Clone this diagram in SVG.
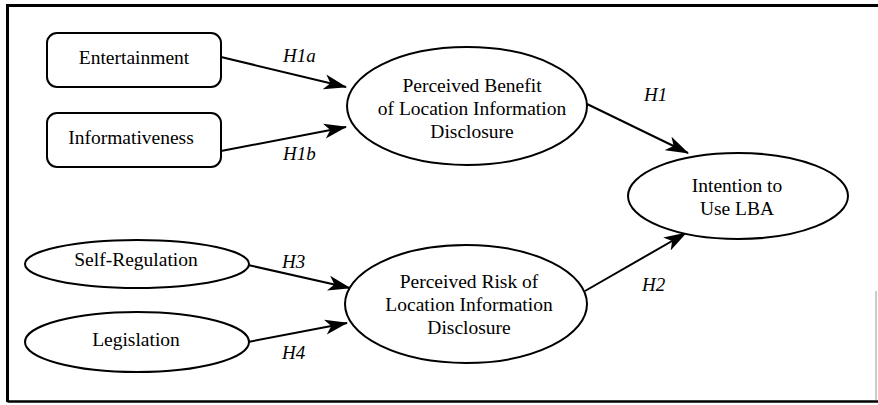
<svg xmlns="http://www.w3.org/2000/svg" width="878" height="405" viewBox="0 0 878 405" font-family="'Liberation Serif', 'DejaVu Serif', Tinos, 'Times New Roman', Times, serif">
  <defs>
    <style>
      .shape { fill: #fff; stroke: #000; stroke-width: 2; }
      .edge { stroke: #000; stroke-width: 2; fill: none; marker-end: url(#head); }
      .label { font-size: 19.5px; fill: #000; text-anchor: middle; }
      .hyp { font-size: 19px; font-style: italic; fill: #000; }
    </style>
    <marker id="head" viewBox="0 -8 24 16" refX="22" refY="0" markerWidth="24" markerHeight="16" markerUnits="userSpaceOnUse" orient="auto">
      <path d="M0,-7.5 L23,0 L0,7.5 L6,0 Z" fill="#000"/>
    </marker>
  </defs>

  <rect width="878" height="405" fill="#fff"/>

  <!-- outer frame -->
  <g id="frame">
    <path d="M7.5,402 L7.5,5.5 L878,5.5" fill="none" stroke="#000" stroke-width="3"/>
    <path d="M7.5,401.5 L878,401.5" fill="none" stroke="#000" stroke-width="2.5"/>
    <path d="M876,291 L876,400" fill="none" stroke="#999" stroke-width="1"/>
  </g>

  <!-- connectors -->
  <g id="connectors">
    <path class="edge" d="M221,57 L346,87"/>
    <path class="edge" d="M221,151 L346,127"/>
    <path class="edge" d="M587,104 L688,153"/>
    <path class="edge" d="M585,291 L686,233"/>
    <path class="edge" d="M248,265 L350,288"/>
    <path class="edge" d="M248,342 L347,323"/>
  </g>

  <!-- hypothesis labels -->
  <g id="labels">
    <text class="hyp" x="283" y="62">H1a</text>
    <text class="hyp" x="283" y="160">H1b</text>
    <text class="hyp" x="644" y="101">H1</text>
    <text class="hyp" x="642" y="291">H2</text>
    <text class="hyp" x="282" y="268">H3</text>
    <text class="hyp" x="282" y="359">H4</text>
  </g>

  <g id="entertainment">
    <rect class="shape" x="47" y="33" width="174" height="54" rx="10"/>
    <text class="label" x="134" y="64">Entertainment</text>
  </g>

  <g id="informativeness">
    <rect class="shape" x="47" y="113" width="174" height="54" rx="10"/>
    <text class="label" x="131" y="144">Informativeness</text>
  </g>

  <g id="perceived-benefit">
    <ellipse class="shape" cx="467" cy="106" rx="120" ry="59"/>
    <text class="label" x="472" y="92">Perceived Benefit</text>
    <text class="label" x="472" y="115">of Location Information</text>
    <text class="label" x="472" y="138">Disclosure</text>
  </g>

  <g id="intention">
    <ellipse class="shape" cx="738" cy="196" rx="110" ry="43"/>
    <text class="label" x="737" y="192">Intention to</text>
    <text class="label" x="737" y="215">Use LBA</text>
  </g>

  <g id="self-regulation">
    <ellipse class="shape" cx="137" cy="264" rx="112" ry="24"/>
    <text class="label" x="136" y="266">Self-Regulation</text>
  </g>

  <g id="legislation">
    <ellipse class="shape" cx="137" cy="342" rx="112" ry="30"/>
    <text class="label" x="136" y="346">Legislation</text>
  </g>

  <g id="perceived-risk">
    <ellipse class="shape" cx="466" cy="304" rx="121" ry="59"/>
    <text class="label" x="469" y="288">Perceived Risk of</text>
    <text class="label" x="469" y="311">Location Information</text>
    <text class="label" x="469" y="334">Disclosure</text>
  </g>
</svg>
